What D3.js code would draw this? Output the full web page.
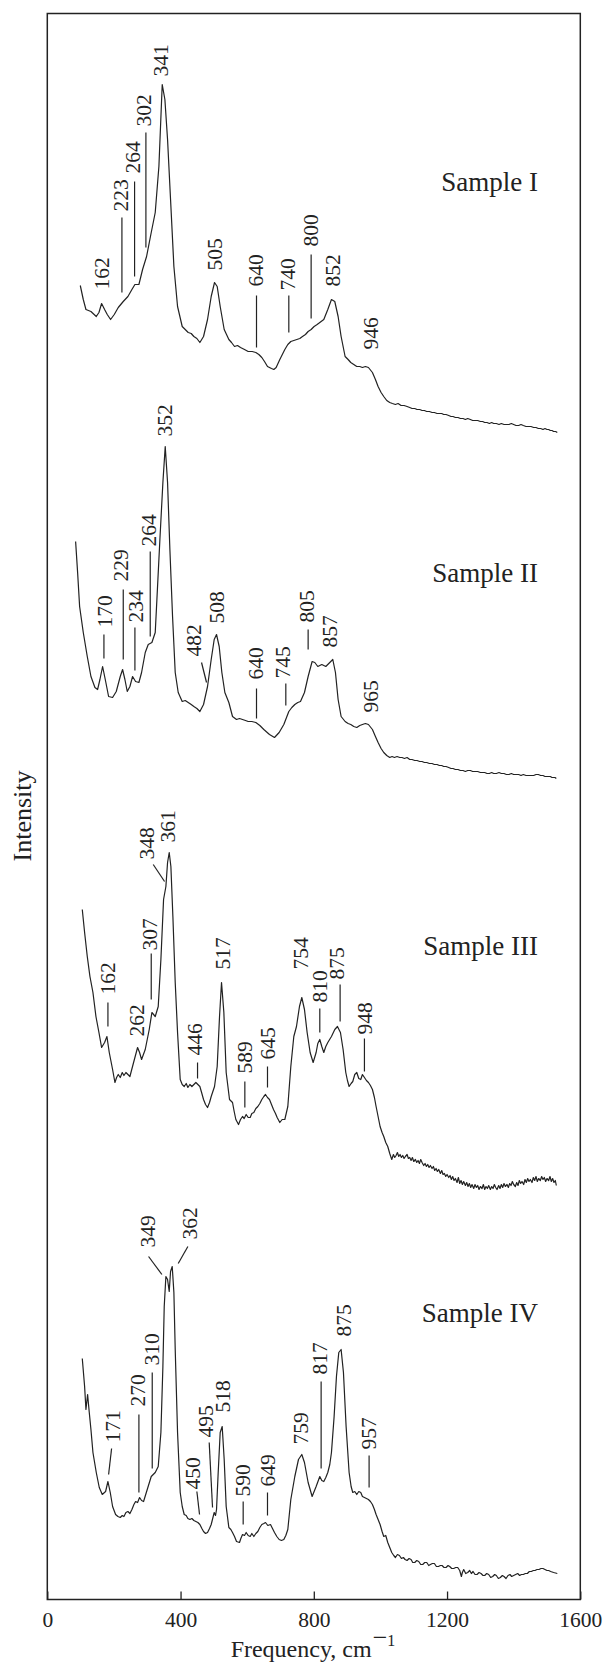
<!DOCTYPE html>
<html>
<head>
<meta charset="utf-8">
<script src="https://cdn.jsdelivr.net/npm/d3@7"></script>
<style>
  body { margin: 0; background: #fff; }
  svg { display: block; }
  text { font-family: "Liberation Serif", "DejaVu Serif", serif; fill: #222; }
</style>
</head>
<body>
<svg id="chart" width="608" height="1664"></svg>
<script>
// Raman spectra, four samples, stacked with vertical offsets (arbitrary intensity units)
const sampleNames = ["Sample I", "Sample II", "Sample III", "Sample IV"];
const offsets = [1148, 798, 398, -2];
const xTicks = [0, 400, 800, 1200, 1600];

const spectrum1 = [
  [99,166],[108,152],[116,142],[131,140],[147,135],[155,139],[163,148],[172,142],[180,137],[190,132],
  [201,137],[213,144],[228,150],[242,155],[254,162],[263,167],[275,167],[286,182],[298,195],[312,219],
  [324,239],[335,285],[345,367],[353,352],[361,312],[370,252],[380,185],[391,145],[405,125],[414,122],
  [423,119],[432,118],[440,115],[449,113],[458,109],[469,115],[481,132],[492,155],[502,169],[510,165],
  [519,145],[531,122],[545,112],[553,109],[562,105],[571,106],[580,104],[592,102],[603,100],[615,100],
  [626,99],[635,97],[644,94],[652,90],[661,85],[673,83],[680,82],[687,84],[698,92],[713,102],
  [722,107],[731,110],[740,111],[749,112],[758,113],[766,115],[775,117],[783,120],[792,122],[801,125],
  [810,127],[818,129],[830,132],[842,142],[853,152],[863,150],[873,135],[882,115],[894,95],[903,92],
  [911,89],[920,87],[929,85],[938,85],[946,84],[955,85],[964,84],[976,79],[985,72],[993,65],
  [1002,59],[1010,55],[1019,51],[1028,49],[1036,48],[1045,47],[1053,48],[1062,46],[1071,46],[1080,45],
  [1088,44],[1095,43],[1103,43],[1110,42],[1118,42],[1125,41],[1132,41],[1139,40],[1147,40],[1155,39],
  [1162,39],[1170,38],[1177,38],[1184,38],[1190,37],[1197,37],[1205,36],[1212,35],[1218,35],[1225,34],
  [1233,34],[1240,33],[1248,33],[1255,32],[1262,33],[1270,32],[1277,31],[1285,31],[1292,31],[1300,30],
  [1307,30],[1313,29],[1320,29],[1327,28],[1334,29],[1340,28],[1348,28],[1356,27],[1363,28],[1371,27],
  [1378,27],[1386,27],[1393,28],[1400,27],[1407,26],[1415,26],[1422,27],[1429,26],[1437,25],[1445,25],
  [1452,25],[1460,24],[1467,24],[1474,23],[1481,23],[1488,22],[1494,23],[1500,22],[1505,22],[1510,21],
  [1515,21],[1520,20],[1526,20],[1531,19]
];

const spectrum2 = [
  [85,260],[91,229],[97,195],[108,169],[120,145],[131,125],[143,114],[151,112],[158,122],[166,135],
  [174,122],[184,105],[196,104],[207,110],[219,125],[226,132],[233,122],[240,110],[248,115],[256,125],
  [265,120],[275,119],[283,129],[294,149],[303,157],[314,159],[324,169],[329,202],[338,262],[347,319],
  [354,355],[361,319],[368,252],[376,185],[384,129],[393,109],[405,100],[414,101],[423,99],[432,97],
  [440,95],[449,93],[458,90],[469,97],[481,115],[492,142],[501,162],[508,167],[516,155],[524,129],
  [533,109],[545,99],[556,85],[568,82],[577,83],[586,82],[595,81],[603,80],[614,80],[626,79],
  [638,76],[650,72],[667,67],[682,64],[696,69],[710,77],[725,90],[734,94],[743,97],[752,99],
  [760,100],[772,109],[783,125],[795,140],[803,139],[812,135],[824,137],[836,135],[848,139],[857,142],
  [865,129],[873,102],[882,85],[894,80],[903,78],[911,77],[920,75],[929,74],[938,76],[946,77],
  [955,78],[964,77],[976,72],[985,65],[993,59],[1002,53],[1010,49],[1019,46],[1028,44],[1035,45],
  [1042,44],[1050,45],[1058,44],[1065,44],[1072,43],[1080,44],[1088,42],[1095,42],[1103,41],[1110,41],
  [1118,40],[1125,40],[1132,39],[1139,39],[1147,38],[1155,38],[1162,37],[1170,37],[1177,36],[1184,36],
  [1190,35],[1197,35],[1205,34],[1212,33],[1218,33],[1225,32],[1233,32],[1240,31],[1248,31],[1255,30],
  [1262,31],[1270,31],[1277,30],[1285,30],[1292,30],[1300,29],[1307,29],[1313,29],[1320,28],[1327,28],
  [1334,29],[1340,28],[1348,28],[1356,29],[1363,28],[1371,28],[1378,27],[1386,27],[1393,28],[1400,27],
  [1407,27],[1415,27],[1422,26],[1429,27],[1437,26],[1445,26],[1452,26],[1460,26],[1467,27],[1474,27],
  [1481,26],[1488,26],[1494,25],[1500,25],[1505,25],[1510,25],[1515,24],[1520,24],[1524,24],[1528,23]
];

const spectrum3 = [
  [105,292],[112,269],[120,245],[128,225],[137,209],[146,185],[155,169],[163,154],[172,159],[179,165],
  [186,149],[196,132],[203,119],[208,124],[213,127],[219,124],[225,129],[230,126],[236,129],[242,127],
  [248,125],[259,139],[271,154],[277,149],[283,142],[294,152],[306,172],[314,189],[324,185],[333,195],
  [341,242],[349,302],[356,315],[361,339],[366,349],[371,335],[377,285],[384,219],[391,169],[399,122],
  [405,117],[411,115],[417,118],[422,114],[428,117],[434,115],[440,117],[446,119],[452,117],[458,115],
  [464,108],[469,102],[475,97],[481,94],[487,99],[492,105],[502,115],[510,135],[517,185],[523,219],
  [530,189],[537,129],[547,102],[556,99],[561,90],[566,82],[574,77],[580,82],[586,85],[591,83],
  [597,87],[603,84],[609,84],[614,88],[620,89],[626,93],[632,95],[638,98],[644,102],[650,105],
  [655,107],[661,104],[667,102],[673,97],[679,92],[685,88],[690,84],[698,79],[705,82],[713,82],
  [722,95],[731,135],[740,165],[748,175],[757,195],[764,204],[772,192],[780,169],[789,149],[798,139],
  [807,149],[812,158],[818,162],[824,155],[830,149],[836,155],[842,159],[853,165],[863,172],[871,175],
  [880,169],[888,152],[896,129],[901,121],[906,115],[912,118],[917,120],[923,127],[929,129],[935,123],
  [941,122],[946,127],[952,124],[958,121],[964,119],[970,116],[976,112],[982,104],[987,95],[993,85],
  [999,75],[1005,69],[1010,65],[1016,59],[1022,55],[1028,48],[1034,42],[1039,47],[1043,44],[1047,46],
  [1051,49],[1055,45],[1059,47],[1063,44],[1067,46],[1071,43],[1075,45],[1080,47],[1084,43],[1088,44],
  [1092,41],[1096,44],[1100,40],[1105,42],[1109,39],[1113,41],[1117,38],[1121,42],[1125,39],[1130,36],
  [1134,38],[1138,35],[1142,37],[1146,34],[1150,36],[1155,33],[1159,35],[1163,31],[1167,33],[1171,30],
  [1175,32],[1180,28],[1184,31],[1188,27],[1192,28],[1196,25],[1200,27],[1205,24],[1209,26],[1213,22],
  [1217,25],[1221,21],[1225,23],[1230,19],[1234,24],[1238,18],[1242,21],[1246,17],[1250,20],[1255,16],
  [1259,19],[1263,15],[1267,18],[1271,14],[1275,17],[1280,13],[1284,17],[1288,14],[1292,16],[1296,12],
  [1300,15],[1305,13],[1309,17],[1313,12],[1317,15],[1321,13],[1325,16],[1330,12],[1334,15],[1338,13],
  [1342,17],[1346,14],[1350,12],[1355,16],[1359,13],[1363,17],[1367,14],[1371,18],[1375,15],[1380,17],
  [1384,14],[1388,18],[1392,16],[1396,20],[1400,17],[1405,15],[1409,19],[1413,16],[1417,21],[1421,18],
  [1425,20],[1430,17],[1434,22],[1438,19],[1442,23],[1446,20],[1450,22],[1455,19],[1459,24],[1463,21],
  [1467,25],[1471,20],[1475,23],[1480,21],[1484,25],[1488,22],[1492,24],[1496,20],[1500,23],[1505,21],
  [1509,25],[1513,20],[1517,23],[1521,19],[1525,21],[1528,16]
];

const spectrum4 = [
  [105,243],[112,215],[116,192],[121,207],[126,189],[131,172],[137,149],[147,129],[156,114],[165,107],
  [175,110],[182,120],[189,109],[196,95],[205,87],[212,85],[219,84],[225,86],[230,85],[236,89],
  [242,90],[248,88],[254,92],[260,97],[265,100],[271,99],[277,104],[283,101],[289,100],[300,112],
  [312,125],[324,129],[333,135],[341,169],[347,235],[351,295],[356,325],[361,322],[366,310],[370,330],
  [375,335],[380,309],[384,252],[391,169],[399,109],[405,95],[411,87],[417,86],[422,83],[428,82],
  [434,83],[440,81],[446,80],[452,79],[458,77],[464,73],[469,70],[475,68],[481,69],[487,73],
  [492,77],[501,89],[505,86],[508,92],[513,129],[519,169],[525,175],[531,142],[537,95],[545,74],
  [551,72],[556,69],[562,65],[568,60],[577,59],[581,63],[586,67],[592,66],[597,69],[603,66],
  [609,65],[614,68],[620,65],[626,68],[632,70],[638,74],[644,77],[650,78],[655,79],[662,76],
  [670,77],[676,73],[682,69],[689,65],[696,62],[703,61],[710,62],[716,66],[722,72],[731,102],
  [743,125],[754,142],[764,147],[772,139],[783,119],[795,105],[801,110],[807,115],[818,125],[824,121],
  [830,120],[836,124],[842,129],[848,137],[853,149],[861,185],[868,225],[875,249],[882,252],[889,229],
  [897,175],[906,129],[912,115],[917,109],[923,110],[929,107],[935,110],[941,109],[946,105],[952,104],
  [958,103],[964,102],[970,100],[976,97],[982,92],[987,87],[993,82],[999,77],[1005,70],[1010,65],
  [1016,66],[1022,59],[1028,54],[1034,49],[1040,46],[1045,44],[1051,47],[1057,46],[1063,43],[1069,44],
  [1074,42],[1080,41],[1086,43],[1092,42],[1097,39],[1103,39],[1109,41],[1115,40],[1121,37],[1127,37],
  [1133,39],[1139,39],[1145,36],[1150,37],[1156,38],[1162,38],[1168,35],[1174,35],[1180,36],[1185,36],
  [1191,34],[1197,34],[1203,36],[1208,35],[1214,33],[1220,33],[1226,34],[1232,34],[1238,31],[1243,25],
  [1246,29],[1250,32],[1256,28],[1262,29],[1268,31],[1273,28],[1278,30],[1284,27],[1290,27],[1296,29],
  [1302,28],[1308,26],[1313,26],[1319,28],[1325,27],[1331,24],[1337,25],[1343,27],[1348,26],[1354,23],
  [1360,24],[1366,26],[1371,25],[1377,23],[1383,26],[1389,27],[1394,25],[1400,26],[1406,27],[1412,28],
  [1418,26],[1423,27],[1429,27],[1435,28],[1441,28],[1447,30],[1453,30],[1459,31],[1464,31],[1470,32],
  [1476,32],[1482,33],[1488,33],[1494,32],[1500,31],[1505,31],[1511,30],[1520,29],[1531,28]
];

const spectra = [spectrum1, spectrum2, spectrum3, spectrum4];

// peak labels: [text, frequency of label column, intensity where text starts, leader line [f1, i1, f2, i2]]
const peaks1 = [
  ["162", 164, 162, null],
  ["223", 221, 240, [224, 234, 224, 159]],
  ["264", 257, 278, [262, 270, 262, 175]],
  ["302", 288, 325, [296, 319, 296, 204]],
  ["341", 341, 375, null],
  ["505", 502, 181, null],
  ["640", 626, 165, [628, 156, 628, 104]],
  ["740", 721, 161, [725, 156, 725, 119]],
  ["800", 789, 205, [792, 197, 792, 133]],
  ["852", 856, 165, null],
  ["946", 969, 102, null]
];
const peaks2 = [
  ["170", 172, 174, [170, 167, 170, 143]],
  ["229", 219, 220, [228, 212, 228, 142]],
  ["234", 265, 179, [263, 174, 263, 131]],
  ["264", 304, 255, [309, 250, 309, 165]],
  ["352", 352, 365, null],
  ["482", 440, 145, [463, 139, 478, 119]],
  ["508", 509, 178, null],
  ["640", 626, 122, [628, 113, 628, 83]],
  ["745", 707, 123, [716, 118, 716, 96]],
  ["805", 777, 179, [783, 172, 783, 152]],
  ["857", 847, 154, null],
  ["965", 969, 89, null]
];
const peaks3 = [
  ["162", 182, 207, [182, 199, 182, 175]],
  ["262", 267, 165, null],
  ["307", 306, 251, [312, 248, 312, 202]],
  ["348", 298, 342, [318, 337, 352, 320]],
  ["361", 361, 359, null],
  ["446", 443, 146, [451, 139, 451, 123]],
  ["517", 527, 232, null],
  ["589", 593, 128, [593, 120, 593, 94]],
  ["645", 661, 142, [661, 135, 661, 114]],
  ["754", 760, 232, null],
  ["810", 818, 199, [818, 193, 818, 169]],
  ["875", 868, 222, [879, 217, 879, 180]],
  ["948", 952, 167, [952, 163, 952, 130]]
];
const peaks4 = [
  ["171", 195, 159, [193, 153, 184, 127]],
  ["270", 271, 195, [275, 187, 275, 109]],
  ["310", 312, 236, [315, 229, 315, 133]],
  ["349", 300, 354, [304, 345, 344, 327]],
  ["362", 428, 362, [422, 355, 393, 338]],
  ["450", 437, 112, [449, 110, 457, 87]],
  ["495", 475, 164, [486, 159, 496, 94]],
  ["518", 527, 189, null],
  ["590", 585, 105, [588, 100, 588, 77]],
  ["649", 661, 115, [661, 109, 661, 86]],
  ["759", 760, 157, null],
  ["817", 818, 227, [822, 220, 822, 133]],
  ["875", 888, 265, null],
  ["957", 963, 152, [966, 146, 966, 114]]
];
const peakLabels = [peaks1, peaks2, peaks3, peaks4];

// sample name anchor: [frequency of right end, intensity of baseline]
const nameAnchors = [[1473, 261], [1473, 220], [1473, 247], [1473, 280]];

const svg = d3.select("#chart");
const margin = { top: 13.5, right: 27.7, bottom: 64.5, left: 47.3 };
const width = 608, height = 1664;
const plotBottom = height - margin.bottom;

const x = d3.scaleLinear().domain([0, 1600]).range([margin.left, width - margin.right]);
const y = d3.scaleLinear().domain([0, plotBottom - margin.top]).range([plotBottom, margin.top]);

// frame
svg.append("rect")
  .attr("x", margin.left)
  .attr("y", margin.top)
  .attr("width", width - margin.left - margin.right)
  .attr("height", plotBottom - margin.top)
  .attr("fill", "none")
  .attr("stroke", "#222")
  .attr("stroke-width", 1.5);

// bottom axis, ticks pointing inward
const xAxis = d3.axisBottom(x).tickValues(xTicks).tickSize(-8).tickFormat(d3.format("d"));
const gx = svg.append("g").attr("transform", `translate(0,${plotBottom})`).call(xAxis);
gx.select(".domain").remove();
gx.selectAll(".tick line").attr("stroke", "#222").attr("stroke-width", 1.3);
gx.selectAll(".tick text")
  .attr("y", 27)
  .attr("dy", 0)
  .attr("fill", "#222")
  .style("font-family", "'Liberation Serif', serif")
  .style("font-size", "21.5px");

// axis titles
const xTitle = svg.append("text")
  .attr("x", 313)
  .attr("y", 1656.5)
  .attr("text-anchor", "middle")
  .style("font-size", "24px");
xTitle.append("tspan").text("Frequency, cm");
xTitle.append("tspan").attr("dx", 1).attr("dy", -11).style("font-size", "26px").text("\u2212");
xTitle.append("tspan").style("font-size", "16px").text("1");

svg.append("text")
  .attr("transform", "translate(22,816) rotate(-90)")
  .attr("text-anchor", "middle")
  .attr("dy", "0.35em")
  .style("font-size", "26px")
  .text("Intensity");

const line = d3.line();

spectra.forEach((spec, k) => {
  const off = offsets[k];
  svg.append("path")
    .datum(spec)
    .attr("fill", "none")
    .attr("stroke", "#222")
    .attr("stroke-width", 1.2)
    .attr("stroke-linejoin", "round")
    .attr("d", line.x(d => x(d[0])).y(d => y(d[1] + off)));

  const g = svg.append("g");
  peakLabels[k].forEach(p => {
    const [txt, fx, iy, ln] = p;
    g.append("text")
      .attr("transform", `translate(${x(fx)},${y(iy + off)}) rotate(-90)`)
      .attr("dy", "0.35em")
      .style("font-size", "21.5px")
      .text(txt);
    if (ln) {
      g.append("line")
        .attr("x1", x(ln[0])).attr("y1", y(ln[1] + off))
        .attr("x2", x(ln[2])).attr("y2", y(ln[3] + off))
        .attr("stroke", "#222")
        .attr("stroke-width", 1.2);
    }
  });

  svg.append("text")
    .attr("x", x(nameAnchors[k][0]))
    .attr("y", y(nameAnchors[k][1] + off))
    .attr("text-anchor", "end")
    .style("font-size", "27px")
    .text(sampleNames[k]);
});
</script>
</body>
</html>
